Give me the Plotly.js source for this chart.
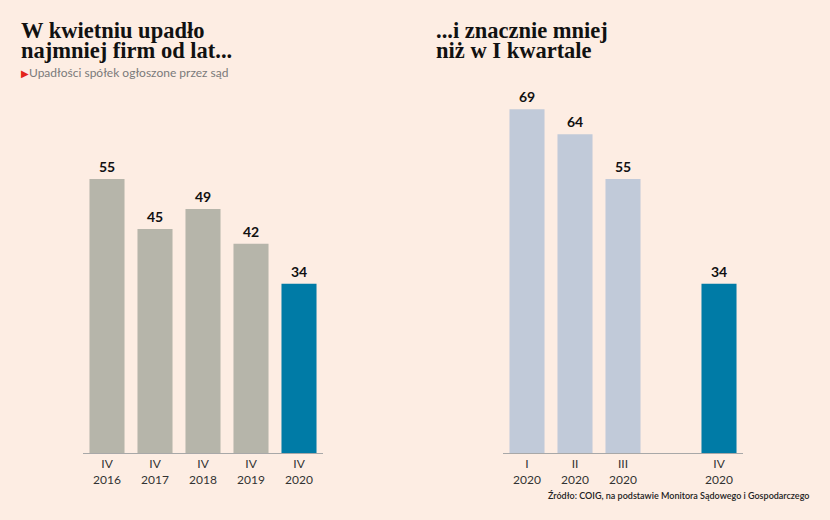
<!DOCTYPE html>
<html>
<head>
<meta charset="utf-8">
<script src="https://cdn.plot.ly/plotly-3.0.1.min.js"></script>
<style>
html,body{margin:0;padding:0;background:#fdede3;}
#chart{width:830px;height:520px;}
</style>
</head>
<body>
<div id="chart"></div>
<script>
// Data
const leftCategories = ['IV<br>2016', 'IV<br>2017', 'IV<br>2018', 'IV<br>2019', 'IV<br>2020'];
const leftValues = [55, 45, 49, 42, 34];
const rightCategories = ['I<br>2020', 'II<br>2020', 'III<br>2020', ' ', 'IV<br>2020'];
const rightValues = [69, 64, 55, null, 34];

const BG = '#fdede3';
const GRAY = '#b6b5aa';
const BLUE = '#007ba6';
const LIGHTBLUE = '#c1cad9';

const leftColors = leftValues.map((v, i) => i === leftValues.length - 1 ? BLUE : GRAY);
const rightColors = rightCategories.map((c, i) => i === rightCategories.length - 1 ? BLUE : LIGHTBLUE);

const traces = [
  {type: 'bar', x: leftCategories, y: leftValues, xaxis: 'x', yaxis: 'y',
   marker: {color: leftColors}, hoverinfo: 'skip'},
  {type: 'bar', x: rightCategories, y: rightValues, xaxis: 'x2', yaxis: 'y2',
   marker: {color: rightColors}, hoverinfo: 'skip'}
];

const W = 830, H = 520;
const px = v => v / W;
const py = v => 1 - v / H;

const annotations = [];
leftCategories.forEach((c, i) => {
  annotations.push({xref: 'x', yref: 'y', x: c, y: leftValues[i], text: String(leftValues[i]),
    showarrow: false, yanchor: 'bottom', yshift: 2,
    font: {family: 'Lato', size: 14, color: '#111', weight: 'bold'}});
});
rightCategories.forEach((c, i) => {
  if (rightValues[i] == null) return;
  annotations.push({xref: 'x2', yref: 'y2', x: c, y: rightValues[i], text: String(rightValues[i]),
    showarrow: false, yanchor: 'bottom', yshift: 2,
    font: {family: 'Lato', size: 14, color: '#111', weight: 'bold'}});
});

// Titles: small base font so the line spacing is tight, large inner span
const titleFont = {family: 'Liberation Serif', size: 15.5, color: '#111', weight: 'bold'};
function big(s) { return '<span style="font-size:22.5px"><b>' + s + '</b></span>'; }
function txt(text, x, y, font, xanchor) {
  annotations.push({xref: 'paper', yref: 'paper', x: px(x), y: py(y), text: text,
    showarrow: false, xanchor: xanchor || 'left', yanchor: 'middle',
    align: xanchor === 'right' ? 'right' : 'left', font: font});
}
txt(big('W kwietniu upadło') + '<br>' + big('najmniej firm od lat...'), 19, 41, titleFont);
txt('<span style="color:#e3241b;font-size:10px">▶</span>Upadłości spółek ogłoszone przez sąd', 19, 73,
    {family: 'Lato', size: 12, color: '#7a7a7a'});
txt(big('...i znacznie mniej') + '<br>' + big('niż w I kwartale'), 434, 41, titleFont);
txt('Źródło: COIG, na podstawie Monitora Sądowego i Gospodarczego', 811, 495,
    {family: 'Lato', size: 9, color: '#222', weight: 600}, 'right');

const yDomain = [(H - 453) / H, (H - 94.4) / H];
const axisCommon = {
  showgrid: false, zeroline: false, showline: true, linecolor: '#a8a8a8', linewidth: 1,
  ticks: '', tickfont: {family: 'Lato', size: 12, color: '#333'}, fixedrange: true
};
const yCommon = {range: [0, 72], showgrid: false, zeroline: false, showline: false,
  showticklabels: false, ticks: '', fixedrange: true, domain: yDomain};

const layout = {
  width: W, height: H,
  margin: {l: 0, r: 0, t: 0, b: 0},
  paper_bgcolor: BG, plot_bgcolor: BG,
  showlegend: false,
  bargap: 0.27,
  xaxis: Object.assign({}, axisCommon, {domain: [px(83), px(323)], anchor: 'y', type: 'category'}),
  xaxis2: Object.assign({}, axisCommon, {domain: [px(503), px(743)], anchor: 'y2', type: 'category'}),
  yaxis: Object.assign({}, yCommon, {anchor: 'x'}),
  yaxis2: Object.assign({}, yCommon, {anchor: 'x2'}),
  annotations: annotations
};

Plotly.newPlot('chart', traces, layout, {displayModeBar: false, staticPlot: true});
</script>
</body>
</html>
